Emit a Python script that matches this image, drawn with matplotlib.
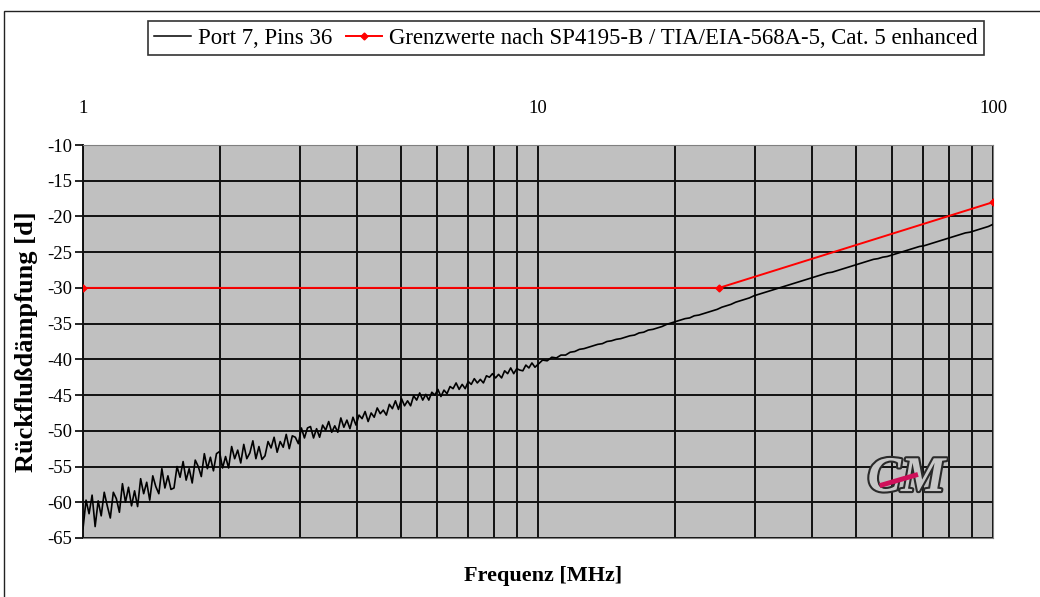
import numpy as np
import matplotlib
matplotlib.use("Agg")
import matplotlib.pyplot as plt
import matplotlib.patheffects as pe
from matplotlib.patches import Rectangle
from matplotlib.lines import Line2D

plt.rcParams['font.family'] = ['Liberation Serif', 'DejaVu Serif']
plt.rcParams['axes.unicode_minus'] = False

# measured return loss, Port 7 pins 36 (dB), log-spaced 1..10 MHz
port7_low = [
    -63.7, -59.7, -61.6, -59.0, -63.4, -59.8, -61.9, -58.6, -60.5, -62.2, -58.6, -59.5, -61.4, -57.4, -60.0,
    -57.9, -60.5, -58.4, -60.6, -56.7, -58.8, -57.2, -59.7, -56.3, -57.8, -58.8, -55.3, -58.0, -56.3, -58.2,
    -58.0, -55.0, -56.5, -54.3, -56.9, -55.3, -57.3, -54.1, -55.0, -56.4, -53.2, -55.3, -53.7, -55.6, -53.2,
    -52.9, -55.2, -53.6, -55.2, -52.2, -53.9, -52.7, -54.5, -51.9, -53.9, -53.1, -51.4, -53.9, -52.2, -54.0,
    -53.5, -51.5, -52.4, -50.9, -53.0, -51.5, -52.3, -50.5, -52.5, -50.7, -50.9, -51.8, -49.6, -51.0, -49.6,
    -49.4, -51.0, -49.7, -50.9, -49.2, -49.9, -48.7, -50.2, -49.3, -50.2, -48.2, -49.5, -48.5, -49.7, -48.1,
    -49.2, -47.8, -48.3, -47.3, -48.7, -47.5, -48.1, -46.8, -47.6, -47.1, -47.8, -46.3, -46.9, -45.8, -47.0,
    -45.5, -46.5, -45.8, -46.5, -45.1, -45.7, -44.7, -45.7, -44.9, -45.7, -44.6, -45.0, -44.2, -45.2, -44.3,
    -44.8, -43.8, -44.1, -43.3, -44.2, -43.5, -44.1, -43.1, -43.5, -42.7, -43.3, -42.8, -43.3, -42.3, -42.5,
    -42.0, -42.6, -42.1, -42.6, -41.6, -42.0, -41.2, -42.0, -41.3, -41.5, -41.6, -40.8, -41.2, -40.5, -41.1,
]
# log-spaced 10..100 MHz
port7_high = [
    -40.7, -40.1, -40.2, -39.7, -39.8, -39.4, -39.4, -39.0, -38.9, -38.6,
    -38.5, -38.3, -38.1, -37.9, -37.8, -37.5, -37.4, -37.2, -37.1, -36.9,
    -36.7, -36.6, -36.3, -36.2, -35.9, -35.8, -35.6, -35.4, -35.1, -34.9,
    -34.7, -34.5, -34.3, -34.2, -33.9, -33.8, -33.6, -33.4, -33.2, -33.0,
    -32.7, -32.5, -32.3, -32.0, -31.8, -31.6, -31.4, -31.1, -30.9, -30.7,
    -30.5, -30.3, -30.1, -29.9, -29.7, -29.5, -29.3, -29.1, -28.9, -28.7,
    -28.5, -28.3, -28.1, -27.9, -27.8, -27.6, -27.4, -27.2, -27.0, -26.8,
    -26.6, -26.4, -26.2, -26.0, -25.9, -25.7, -25.6, -25.4, -25.2, -25.0,
    -24.8, -24.6, -24.4, -24.2, -24.1, -23.9, -23.7, -23.5, -23.3, -23.1,
    -22.9, -22.7, -22.5, -22.3, -22.2, -22.0, -21.8, -21.6, -21.4, -21.1,
]
freq = np.concatenate([np.geomspace(1, 10, len(port7_low), endpoint=False),
                       np.geomspace(10, 100, len(port7_high))])
port7 = port7_low + port7_high

# limit values
limit_freq = [1, 25, 100]
limit_val = [-30, -30, -18]

y_ticks = [-10, -15, -20, -25, -30, -35, -40, -45, -50, -55, -60, -65]
x_ticks = [1, 10, 100]

fig = plt.figure(figsize=(10.4, 5.97), dpi=100)
W, H = 1040, 597
ax = fig.add_axes([83 / W, 1 - 538 / H, 910 / W, 393 / H])
ax.set_facecolor('#c0c0c0')

# outer chart frame
fig.patches.append(Rectangle((4 / W, -0.05), 1.2, 1 - 11 / H + 0.05, transform=fig.transFigure,
                             fill=False, edgecolor='#222222', lw=1.0))

ax.plot(freq, port7, color='black', lw=1.2, zorder=3)
ax.plot(limit_freq, limit_val, color='#ff0000', lw=1.4, marker='D', ms=3.5, zorder=4)

ax.set_xscale('log')
ax.set_xlim(1, 100)
ax.set_ylim(-65, -10)
ax.set_yticks(y_ticks)
ax.set_xticks(x_ticks)
ax.set_xticklabels([str(v) for v in x_ticks])
ax.xaxis.set_minor_formatter(plt.NullFormatter())
ax.xaxis.tick_top()
ax.tick_params(axis='x', which='both', length=0, pad=20, labelsize=13.5)
ax.tick_params(axis='y', length=6, width=1.2, direction='out', pad=2, labelsize=13.5)

ax.grid(True, which='major', color='#111111', lw=1.4)
ax.grid(True, which='minor', axis='x', color='#111111', lw=1.4)
ax.set_axisbelow(True)
for s in ['top', 'right', 'bottom']:
    ax.spines[s].set_color('#808080')
ax.spines['left'].set_color('#111111')
ax.spines['left'].set_linewidth(1.4)

ax.set_ylabel('Rückflußdämpfung [d]', fontsize=19, fontweight='bold')
ax.yaxis.set_label_coords(-0.049, 0.5)
fig.text(543 / W, 1 - 576 / H, 'Frequenz [MHz]', ha='center', va='center',
         fontsize=16, fontweight='bold')

handles = [Line2D([], [], color='black', lw=1.1),
           Line2D([], [], color='#ff0000', lw=1.4, marker='D', ms=3.5)]
labels = ['Port 7, Pins 36', 'Grenzwerte nach SP4195-B / TIA/EIA-568A-5, Cat. 5 enhanced']
leg = fig.legend(handles, labels, ncol=2, loc='center', bbox_to_anchor=(566 / W, 1 - 38 / H),
                 fontsize=16.4, frameon=True, fancybox=False, edgecolor='black',
                 handlelength=1.6, handletextpad=0.3, columnspacing=0.6,
                 borderpad=0.3, borderaxespad=0)
leg.get_frame().set_linewidth(1.2)

# logo in lower right
ax.text(0.905, 0.15, 'CM', transform=ax.transAxes, fontsize=36, fontstyle='italic',
        fontweight='bold', color='#c8c8c8', ha='center', va='center', zorder=5,
        path_effects=[pe.withStroke(linewidth=3, foreground='#2a2a2a')])
ax.plot([0.878, 0.915], [0.135, 0.16], transform=ax.transAxes, color='#d0105a', lw=3.5, zorder=6)

fig.savefig('out.png', dpi=100)
